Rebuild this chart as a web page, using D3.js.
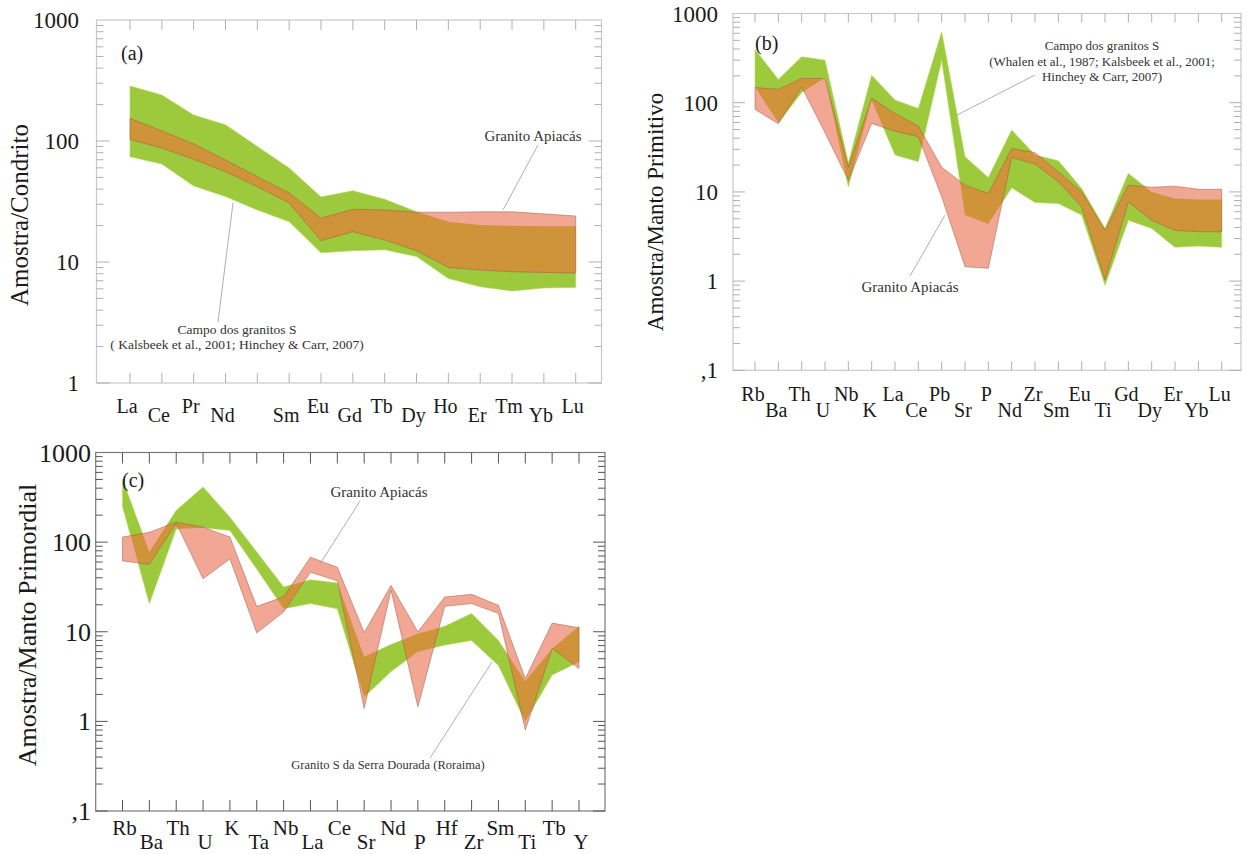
<!DOCTYPE html>
<html><head><meta charset="utf-8">
<script src="https://cdn.jsdelivr.net/npm/d3@7"></script>
<style>
body{margin:0;background:#fff}
svg{display:block}
</style>
</head><body>
<svg id="chart" width="1247" height="854" font-family="'Liberation Serif', 'Times New Roman', Times, 'DejaVu Serif', serif"></svg>
<script>
// ---------- Panel (a): REE normalised to chondrite ----------
const aCats = ["La","Ce","Pr","Nd","Pm","Sm","Eu","Gd","Tb","Dy","Ho","Er","Tm","Yb","Lu"];
const aTickLabels = ["La","Ce","Pr","Nd","","Sm","Eu","Gd","Tb","Dy","Ho","Er","Tm","Yb","Lu"];
const aGreenHigh = [285,240,164,136,90,59.8,34.5,38.8,33,26,21.5,20.2,19.9,19.7,19.7];
const aGreenLow  = [74,64.5,42.5,34.7,26.9,21.5,11.9,12.4,12.6,11.1,7.3,6.25,5.76,6.1,6.15];
const aPinkHigh  = [154,121,94.5,69.6,50.7,37.2,23,27.3,26.9,25.8,25.8,26,26,25,24];
const aPinkLow   = [103,87.5,70.6,55.7,41.9,30.7,15,17.8,15.2,12.4,9.0,8.6,8.3,8.2,8.1];
const aYTicks = [1,10,100,1000];
const aYTickLabels = ["1","10","100","1000"];

// ---------- Panel (b): spider diagram, primitive mantle ----------
const bCats = ["Rb","Ba","Th","U","Nb","K","La","Ce","Pb","Sr","P","Nd","Zr","Sm","Eu","Ti","Gd","Dy","Er","Yb","Lu"];
const bGreenHigh = [396,182,327,300,21.2,203,107,86,624,24.7,14.5,49.3,26,22.3,10.9,3.9,16.1,10,8.46,8.2,8.2];
const bGreenLow  = [150,59.5,130,190,11.4,107,26,21.8,300,5.5,4.36,11.1,7.6,7.4,5.5,0.9,4.8,3.9,2.39,2.47,2.39];
const bPinkHigh  = [148,141,187,187,19,112,75.7,54.6,19,11.9,9.6,30.7,27.5,16.8,10.0,3.73,11.9,11.3,11.6,10.7,10.7];
const bPinkLow   = [84,58,150,46,13.5,58.5,48,41.5,8.8,1.45,1.39,24.4,20.5,13,6.8,1.03,7.7,4.8,3.7,3.57,3.57];
const bYTicks = [0.1,1,10,100,1000];
const bYTickLabels = [",1","1","10","100","1000"];

// ---------- Panel (c): spider diagram, primordial mantle ----------
const cCats = ["Rb","Ba","Th","U","K","Ta","Nb","La","Ce","Sr","Nd","P","Hf","Zr","Sm","Ti","Tb","Y"];
const cGreenHigh = [500,77.6,226,411,190,77.5,31.6,38,35,5.25,7.2,9.5,11.5,16,8.0,2.8,6.5,11.5];
const cGreenLow  = [250,20.6,140,145,135,50,18.1,20.6,18,1.87,3.6,6.0,7.1,8.0,4.2,1.0,3.3,4.6];
const cPinkHigh  = [114,129,167,147,114,19.2,24.5,68,52.5,9.8,33,10,24.4,26.2,19.7,3.0,12.5,11.1];
const cPinkLow   = [61.6,56.5,162,39,65,9.7,16.6,46,37,1.39,29,1.45,19.2,20.6,16,0.8,6.5,3.9];
const cYTicks = [0.1,1,10,100,1000];
const cYTickLabels = [",1","1","10","100","1000"];

const GREEN = "#9dca3c", PINK = "#f2a694", BROWN = "#cf943a";
const FONT = "'Liberation Serif', 'Times New Roman', Times, 'DejaVu Serif', serif";
const svg = d3.select("#chart");
let clipId = 0;

function txt(g) { return g.append("text").attr("font-family", FONT); }

function drawPanel(o) {
  const g = svg.append("g");
  const x = d3.scalePoint().domain(o.cats).range([o.xFirst, o.xLast]);
  const y = d3.scaleLog().domain([o.yTicks[0], o.yTicks[o.yTicks.length - 1]]).range([o.bottom, o.top]);

  const areaGen = (hi, lo) => d3.area()
    .x(d => x(d))
    .y0((d, i) => y(lo[i]))
    .y1((d, i) => y(hi[i]))(o.cats);
  const greenPath = areaGen(o.greenHigh, o.greenLow);
  const pinkPath = areaGen(o.pinkHigh, o.pinkLow);

  const id = "clip" + (clipId++);
  g.append("clipPath").attr("id", id).append("path").attr("d", greenPath);

  g.append("path").attr("d", greenPath).attr("fill", GREEN).attr("stroke", "#b5d65a").attr("stroke-width", 0.6);
  g.append("path").attr("d", pinkPath).attr("fill", PINK);
  g.append("path").attr("d", pinkPath).attr("fill", BROWN).attr("clip-path", `url(#${id})`);
  g.append("path").attr("d", pinkPath).attr("fill", "none").attr("stroke", "#8a4e36").attr("stroke-opacity", 0.55).attr("stroke-width", 0.8);

  // frame
  g.append("rect").attr("x", o.left).attr("y", o.top).attr("width", o.right - o.left)
    .attr("height", o.bottom - o.top).attr("fill", "none").attr("stroke", o.frame).attr("stroke-width", 1.2);

  // x ticks top and bottom
  o.cats.forEach(c => {
    const xx = x(c);
    g.append("line").attr("x1", xx).attr("x2", xx).attr("y1", o.top).attr("y2", o.top + o.xTickLen).attr("stroke", o.tick).attr("stroke-width", 1);
    g.append("line").attr("x1", xx).attr("x2", xx).attr("y1", o.bottom).attr("y2", o.bottom - o.xTickLen).attr("stroke", o.tick).attr("stroke-width", 1);
  });

  // y ticks (log, major + minor), left and right
  const lo = o.yTicks[0], hi = o.yTicks[o.yTicks.length - 1];
  for (let d = lo; d < hi * 0.999; d *= 10) {
    for (let k = 1; k <= 9; k++) {
      const yy = y(d * k);
      const len = k === 1 ? o.majorLen : o.minorLen;
      g.append("line").attr("x1", o.left).attr("x2", o.left + len).attr("y1", yy).attr("y2", yy).attr("stroke", o.tick).attr("stroke-width", 1);
      g.append("line").attr("x1", o.right).attr("x2", o.right - len).attr("y1", yy).attr("y2", yy).attr("stroke", o.tick).attr("stroke-width", 1);
    }
  }

  // y tick labels
  o.yTicks.forEach((v, i) => {
    txt(g).attr("x", o.yLabelX).attr("y", y(v) + o.yLabelDy).attr("text-anchor", "end")
      .attr("font-size", o.yLabelSize).attr("fill", "#1a1a1a").text(o.yTickLabels[i]);
  });

  // x tick labels, alternating rows
  o.cats.forEach((c, i) => {
    txt(g).attr("x", x(c) + o.xLabelDx).attr("y", i % 2 === 0 ? o.rowUp : o.rowDown)
      .attr("text-anchor", "middle").attr("font-size", o.xLabelSize).attr("fill", "#1a1a1a").text(o.labels[i]);
  });

  // y title
  txt(g).attr("transform", `translate(${o.titleX},${o.titleY}) rotate(-90)`)
    .attr("text-anchor", "middle").attr("font-size", o.titleSize).attr("fill", "#1a1a1a").text(o.title);

  // panel letter
  txt(g).attr("x", o.letterX).attr("y", o.letterY).attr("font-size", 20).attr("fill", "#1a1a1a").text(o.letter);

  // annotations
  o.notes.forEach(n => {
    n.lines.forEach((t, j) => {
      txt(g).attr("x", n.x).attr("y", n.y + j * n.lh).attr("text-anchor", "middle")
        .attr("font-size", n.size).attr("fill", "#333").text(t);
    });
    g.append("line").attr("x1", n.p[0]).attr("y1", n.p[1]).attr("x2", n.p[2]).attr("y2", n.p[3])
      .attr("stroke", "#9a9a9a").attr("stroke-width", 0.8);
  });
}

drawPanel({
  cats: aCats, labels: aTickLabels, greenHigh: aGreenHigh, greenLow: aGreenLow, pinkHigh: aPinkHigh, pinkLow: aPinkLow,
  yTicks: aYTicks, yTickLabels: aYTickLabels,
  left: 96.5, right: 601.5, top: 20, bottom: 383, xFirst: 130, xLast: 575.7,
  frame: "#c9c9c9", tick: "#b0b0b0", xTickLen: 10, majorLen: 13, minorLen: 7,
  yLabelX: 79, yLabelDy: 8, yLabelSize: 23,
  xLabelDx: -3, rowUp: 413, rowDown: 421.5, xLabelSize: 20,
  title: "Amostra/Condrito", titleX: 28, titleY: 215, titleSize: 25,
  letter: "(a)", letterX: 121, letterY: 60,
  notes: [
    {x: 533, y: 141, lh: 0, size: 15, lines: ["Granito Apiacás"], p: [538, 145, 503, 210]},
    {x: 237, y: 334, lh: 15, size: 13.5, lines: ["Campo dos granitos S", "( Kalsbeek et al., 2001; Hinchey & Carr, 2007)"], p: [218, 322, 233, 203]}
  ]
});

drawPanel({
  cats: bCats, labels: bCats, greenHigh: bGreenHigh, greenLow: bGreenLow, pinkHigh: bPinkHigh, pinkLow: bPinkLow,
  yTicks: bYTicks, yTickLabels: bYTickLabels,
  left: 733, right: 1241, top: 13.5, bottom: 370.3, xFirst: 755, xLast: 1221.7,
  frame: "#c9c9c9", tick: "#b0b0b0", xTickLen: 9, majorLen: 12, minorLen: 7,
  yLabelX: 718, yLabelDy: 8, yLabelSize: 23,
  xLabelDx: -2, rowUp: 401, rowDown: 417, xLabelSize: 20,
  title: "Amostra/Manto Primitivo", titleX: 663, titleY: 212, titleSize: 23,
  letter: "(b)", letterX: 755, letterY: 50,
  notes: [
    {x: 1102, y: 50, lh: 15.5, size: 13, lines: ["Campo dos granitos S", "(Whalen et al., 1987; Kalsbeek et al., 2001;", "Hinchey & Carr, 2007)"], p: [1035, 75, 957, 115]},
    {x: 910, y: 292, lh: 0, size: 15, lines: ["Granito Apiacás"], p: [910, 276, 945, 215]}
  ]
});

drawPanel({
  cats: cCats, labels: cCats, greenHigh: cGreenHigh, greenLow: cGreenLow, pinkHigh: cPinkHigh, pinkLow: cPinkLow,
  yTicks: cYTicks, yTickLabels: cYTickLabels,
  left: 95.7, right: 605, top: 452.5, bottom: 811, xFirst: 122.5, xLast: 579,
  frame: "#7a7a7a", tick: "#555", xTickLen: 11, majorLen: 12, minorLen: 7,
  yLabelX: 91, yLabelDy: 9, yLabelSize: 26,
  xLabelDx: 2, rowUp: 835, rowDown: 849, xLabelSize: 21,
  title: "Amostra/Manto Primordial", titleX: 36, titleY: 625, titleSize: 26,
  letter: "(c)", letterX: 122, letterY: 487,
  notes: [
    {x: 379, y: 497, lh: 0, size: 15, lines: ["Granito Apiacás"], p: [360, 501, 320, 564]},
    {x: 388, y: 769, lh: 0, size: 12.5, lines: ["Granito S da Serra Dourada (Roraima)"], p: [430, 758, 492, 662]}
  ]
});
</script>
</body></html>
